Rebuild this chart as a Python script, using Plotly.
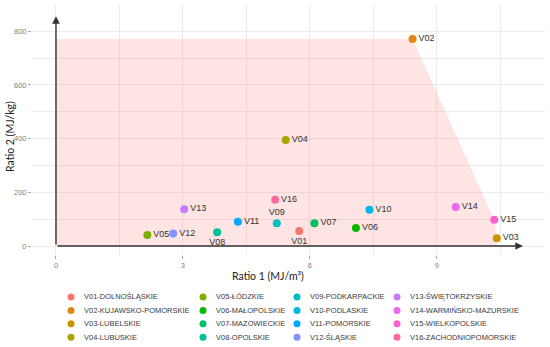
import math
import plotly.graph_objects as go

# ---- data ----
codes = ["V01", "V02", "V03", "V04", "V05", "V06", "V07", "V08",
         "V09", "V10", "V11", "V12", "V13", "V14", "V15", "V16"]
names = ["DOLNOŚLĄSKIE", "KUJAWSKO-POMORSKIE", "LUBELSKIE", "LUBUSKIE",
         "ŁÓDZKIE", "MAŁOPOLSKIE", "MAZOWIECKIE", "OPOLSKIE",
         "PODKARPACKIE", "PODLASKIE", "POMORSKIE", "ŚLĄSKIE",
         "ŚWIĘTOKRZYSKIE", "WARMIŃSKO-MAZURSKIE", "WIELKOPOLSKIE", "ZACHODNIOPOMORSKIE"]
ratio1 = [5.75, 8.43, 10.42, 5.43, 2.16, 7.09, 6.11, 3.81,
          5.22, 7.41, 4.30, 2.77, 3.03, 9.45, 10.36, 5.18]
ratio2 = [56, 771, 29, 395, 41, 67, 85, 51,
          85, 135, 90, 47, 137, 145, 98, 172]
x_ticks = [0, 3, 6, 9]
y_ticks = [0, 200, 400, 600, 800]

# ---- style helpers ----
def hcl_hex(h, c=100.0, l=65.0):
    hr = math.radians(h)
    u, v = c * math.cos(hr), c * math.sin(hr)
    Xn, Yn, Zn = 95.047, 100.0, 108.883
    Y = Yn * ((l + 16) / 116) ** 3
    den = Xn + 15 * Yn + 3 * Zn
    un, vn = 4 * Xn / den, 9 * Yn / den
    up, vp = u / (13 * l) + un, v / (13 * l) + vn
    X = 9 * Y * up / (4 * vp)
    Z = Y * (12 - 3 * up - 20 * vp) / (4 * vp)
    X, Y, Z = X / 100, Y / 100, Z / 100
    rgb = [3.2404542 * X - 1.5371385 * Y - 0.4985314 * Z,
           -0.9692660 * X + 1.8760108 * Y + 0.0415560 * Z,
           0.0556434 * X - 0.2040259 * Y + 1.0572252 * Z]
    out = []
    for ch in rgb:
        ch = 12.92 * ch if ch <= 0.0031308 else 1.055 * ch ** (1 / 2.4) - 0.055
        out.append(int(round(min(max(ch, 0), 1) * 255)))
    return "#%02X%02X%02X" % tuple(out)

n = len(codes)
colors = [hcl_hex(15 + 360 * i / n) for i in range(n)]
label_pos = {"V01": "bottom center", "V08": "bottom center", "V09": "top center"}

FONT = "Liberation Sans, Arial, sans-serif"
TITLE_FONT = "Lato, Liberation Sans, sans-serif"
fig = go.Figure()

# shaded region built from frontier points V02, V15, V03
i02, i15, i03 = codes.index("V02"), codes.index("V15"), codes.index("V03")
poly_x = [0, 0, ratio1[i02], ratio1[i15], ratio1[i03], ratio1[i03], 0]
poly_y = [0, ratio2[i02], ratio2[i02], ratio2[i15], ratio2[i03], 0, 0]
fig.add_trace(go.Scatter(x=poly_x, y=poly_y, mode="lines", fill="toself",
                         fillcolor="rgba(248,118,109,0.2)", line=dict(width=0),
                         hoverinfo="skip", showlegend=False))

for i in range(n):
    fig.add_trace(go.Scatter(
        x=[ratio1[i]], y=[ratio2[i]], mode="markers+text", text=[codes[i]],
        textposition=label_pos.get(codes[i], "middle right"),
        textfont=dict(family=FONT, size=9, color="#333333"),
        marker=dict(size=8, color=colors[i]),
        name=f"{codes[i]}-{names[i]}", showlegend=False))

# manual legend (4 columns, column-major) in a helper subplot
col_px = [71, 203, 297, 397]
leg_x = [col_px[i // 4] for i in range(n)]
leg_y = [-(i % 4) for i in range(n)]
fig.add_trace(go.Scatter(x=leg_x, y=leg_y, mode="markers",
                         marker=dict(size=7, color=colors),
                         xaxis="x2", yaxis="y2", hoverinfo="skip", showlegend=False))
annotations = []
for i in range(n):
    annotations.append(dict(x=leg_x[i] + 11, y=leg_y[i], xref="x2", yref="y2",
                            text=f"{codes[i]}-{names[i]}", showarrow=False,
                            xanchor="left", yanchor="middle",
                            font=dict(family=FONT, size=7.5, color="#3A3A3A")))

# arrowed axes
annotations.append(dict(x=11.04, y=0, ax=0, ay=0, xref="x", yref="y", axref="x", ayref="y",
                        text="", showarrow=True, arrowhead=2, arrowsize=1.1,
                        arrowwidth=1.4, arrowcolor="#333333"))
annotations.append(dict(x=0, y=856, ax=0, ay=0, xref="x", yref="y", axref="x", ayref="y",
                        text="", showarrow=True, arrowhead=2, arrowsize=1.1,
                        arrowwidth=1.4, arrowcolor="#333333"))
# axis titles
annotations.append(dict(x=0.46, y=0.2076, xref="paper", yref="paper",
                        text="Ratio 1 (MJ/m³)", showarrow=False,
                        xanchor="center", yanchor="middle",
                        font=dict(family=TITLE_FONT, size=10.5, color="#222222")))
annotations.append(dict(x=-0.043, y=0.617, xref="paper", yref="paper",
                        text="Ratio 2 (MJ/kg)", showarrow=False, textangle=-90,
                        xanchor="center", yanchor="middle",
                        font=dict(family=TITLE_FONT, size=10.5, color="#222222")))

grid = "#EBEBEB"
fig.update_layout(
    width=550, height=347,
    margin=dict(l=32, r=5, t=5, b=0),
    plot_bgcolor="white", paper_bgcolor="white",
    xaxis=dict(range=[-0.567, 11.56], tickvals=x_ticks, ticktext=[str(v) for v in x_ticks],
               showgrid=True, gridcolor=grid, gridwidth=1, zeroline=False,
               minor=dict(dtick=1.5, tick0=0, showgrid=True, gridcolor=grid, gridwidth=1),
               ticks="outside", ticklen=3, tickcolor="#AAAAAA",
               tickfont=dict(family=FONT, size=7.5, color="#808080"),
               showline=False, domain=[0, 1]),
    yaxis=dict(range=[-33.5, 897.6], tickvals=y_ticks, ticktext=[str(v) for v in y_ticks],
               showgrid=True, gridcolor=grid, gridwidth=1, zeroline=False,
               minor=dict(dtick=100, tick0=0, showgrid=True, gridcolor=grid, gridwidth=1),
               ticks="outside", ticklen=3, tickcolor="#AAAAAA",
               tickfont=dict(family=FONT, size=7.5, color="#808080"),
               showline=False, domain=[0.269, 1]),
    xaxis2=dict(range=[32, 545], visible=False, domain=[0, 1], anchor="y2", fixedrange=True),
    yaxis2=dict(range=[-3.73, 0.52], visible=False, domain=[0, 0.1667], anchor="x2", fixedrange=True),
    annotations=annotations,
    showlegend=False,
)

fig.write_html("out.html", config={"displayModeBar": False},
               post_script="document.body.style.margin='0';")
